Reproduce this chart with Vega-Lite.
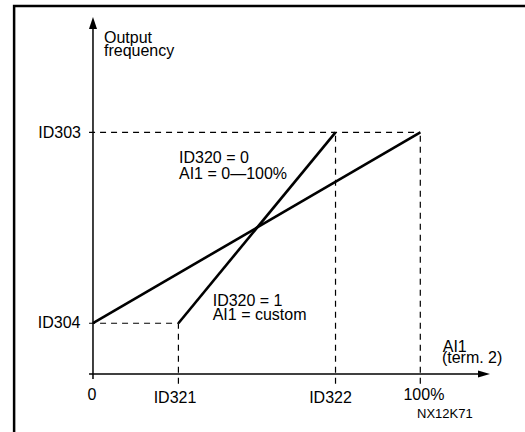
{
  "$schema": "https://vega.github.io/schema/vega-lite/v6.json",
  "width": 525,
  "height": 432,
  "autosize": {"type": "none"},
  "padding": 0,
  "background": "white",
  "config": {"view": {"stroke": null}},
  "datasets": {
    "frame": [{"x": -24.1, "y": 152.3, "x2": 140, "y2": -30}],
    "axes": [
      {"x": 0, "y": -2.1, "x2": 0, "y2": 145},
      {"x": -1.2, "y": 0, "x2": 119, "y2": 0}
    ],
    "dashes": [
      {"x": -1.2, "y": 100, "x2": 100, "y2": 100},
      {"x": -1.2, "y": 21, "x2": 26.1, "y2": 21},
      {"x": 26.1, "y": -4, "x2": 26.1, "y2": 21},
      {"x": 74.1, "y": -4, "x2": 74.1, "y2": 100},
      {"x": 100, "y": -4, "x2": 100, "y2": 100}
    ],
    "curves": [
      {"x": 0, "y": 21, "x2": 100, "y2": 100},
      {"x": 26.1, "y": 21, "x2": 74.1, "y2": 100}
    ],
    "arrowY": [{"x": 0, "y": 147.7}],
    "arrowX": [{"x": 121.3, "y": 0}],
    "textLeft": [
      {"x": 3.36, "y": 136.8, "text": "Output"},
      {"x": 3.36, "y": 131.4, "text": "frequency"},
      {"x": 26.28, "y": 87.2, "text": "ID320 = 0"},
      {"x": 26.28, "y": 80.5, "text": "AI1 = 0—100%"},
      {"x": 36.57, "y": 28.1, "text": "ID320 = 1"},
      {"x": 36.57, "y": 22.3, "text": "AI1 = custom"},
      {"x": 106.85, "y": 9.2, "text": "AI1"},
      {"x": 106.6, "y": 4.4, "text": "(term. 2)"}
    ],
    "textRight": [
      {"x": -3.67, "y": 97.5, "text": "ID303"},
      {"x": -3.82, "y": 19.2, "text": "ID304"}
    ],
    "textCenter": [
      {"x": -0.3, "y": -10.76, "text": "0"},
      {"x": 25.05, "y": -12.1, "text": "ID321"},
      {"x": 72.56, "y": -12.1, "text": "ID322"},
      {"x": 101.1, "y": -10.76, "text": "100%"}
    ],
    "code": [{"x": 107.5, "y": -18.3, "text": "NX12K71"}]
  },
  "encoding": {
    "x": {"field": "x", "type": "quantitative", "scale": {"domain": [-28.41, 131.99], "nice": false, "zero": false}, "axis": null},
    "y": {"field": "y", "type": "quantitative", "scale": {"domain": [-24.0, 154.74], "nice": false, "zero": false}, "axis": null}
  },
  "layer": [
    {
      "data": {"name": "frame"},
      "mark": {"type": "rect", "fill": null, "fillOpacity": 0, "stroke": "black", "strokeWidth": 2.5},
      "encoding": {"x2": {"field": "x2"}, "y2": {"field": "y2"}}
    },
    {
      "data": {"name": "dashes"},
      "mark": {"type": "rule", "color": "black", "strokeWidth": 1.2, "strokeDash": [6, 5]},
      "encoding": {"x2": {"field": "x2"}, "y2": {"field": "y2"}}
    },
    {
      "data": {"name": "axes"},
      "mark": {"type": "rule", "color": "black", "strokeWidth": 1.5},
      "encoding": {"x2": {"field": "x2"}, "y2": {"field": "y2"}}
    },
    {
      "data": {"name": "curves"},
      "mark": {"type": "rule", "color": "black", "strokeWidth": 2.6},
      "encoding": {"x2": {"field": "x2"}, "y2": {"field": "y2"}}
    },
    {
      "data": {"name": "arrowY"},
      "mark": {"type": "point", "shape": "M0,0L0.67,2L-0.67,2Z", "filled": true, "size": 144, "color": "black", "opacity": 1, "strokeWidth": 0}
    },
    {
      "data": {"name": "arrowX"},
      "mark": {"type": "point", "shape": "M0,0L-2,-0.6L-2,0.6Z", "filled": true, "size": 144, "color": "black", "opacity": 1, "strokeWidth": 0}
    },
    {
      "data": {"name": "textLeft"},
      "mark": {"type": "text", "align": "left", "baseline": "alphabetic", "font": "Liberation Sans", "fontSize": 16, "color": "black"},
      "encoding": {"text": {"field": "text"}}
    },
    {
      "data": {"name": "textRight"},
      "mark": {"type": "text", "align": "right", "baseline": "alphabetic", "font": "Liberation Sans", "fontSize": 16, "color": "black"},
      "encoding": {"text": {"field": "text"}}
    },
    {
      "data": {"name": "textCenter"},
      "mark": {"type": "text", "align": "center", "baseline": "alphabetic", "font": "Liberation Sans", "fontSize": 16, "color": "black"},
      "encoding": {"text": {"field": "text"}}
    },
    {
      "data": {"name": "code"},
      "mark": {"type": "text", "align": "center", "baseline": "alphabetic", "font": "Liberation Sans", "fontSize": 13, "color": "black"},
      "encoding": {"text": {"field": "text"}}
    }
  ]
}
